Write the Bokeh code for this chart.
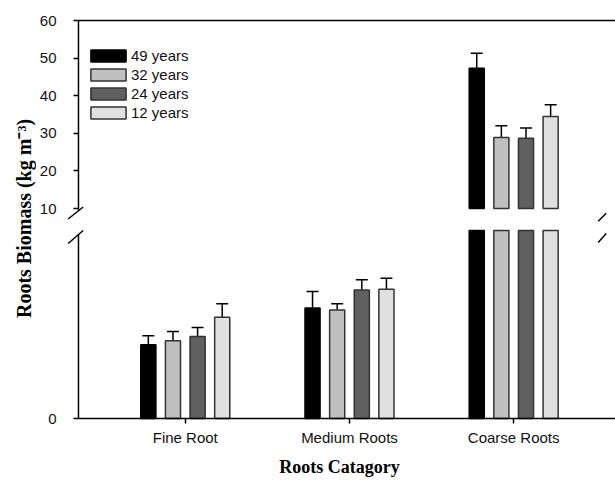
import math
import numpy as np
from bokeh.plotting import figure
from bokeh.models import (ColumnDataSource, Range1d, FixedTicker, Whisker, TeeHead,
                          Legend, LegendItem, Label, Arrow)
from bokeh.layouts import row, column
from bokeh.embed import file_html
from bokeh.resources import INLINE

# ---------------- data ----------------
CATEGORIES = ["Fine Root", "Medium Roots", "Coarse Roots"]
SERIES = ["49 years", "32 years", "24 years", "12 years"]
MEAN_49 = [0.392, 0.588, 47.3]
ERR_49 = [0.048, 0.088, 4.0]
MEAN_32 = [0.413, 0.577, 28.9]
ERR_32 = [0.050, 0.033, 3.1]
MEAN_24 = [0.436, 0.684, 28.7]
ERR_24 = [0.048, 0.054, 2.7]
MEAN_12 = [0.539, 0.688, 34.5]
ERR_12 = [0.071, 0.058, 3.1]
TOP_TICKS = [10, 20, 30, 40, 50, 60]
LOW_TICKS = [0]
UPPER_SEGMENT = (10, 60)   # value span of the upper axis segment
LOWER_SEGMENT = (0, 1.0)   # value span of the lower axis segment

MEANS = [MEAN_49, MEAN_32, MEAN_24, MEAN_12]
ERRS = [ERR_49, ERR_32, ERR_24, ERR_12]

# ---------------- style / layout ----------------
COLORS = ["#000000", "#c0c0c0", "#606060", "#e0e0e0"]
OUTLINES = ["#000000", "#333333", "#333333", "#333333"]
OFFSETS = [-0.225, -0.075, 0.075, 0.225]
BAR_W = 0.092
SANS = "Liberation Sans"
SERIF = "Liberation Serif"

LABEL_W = 36
MAIN_W = 579
BORDER_L = 26                 # frame starts 26px into main figures
AX_PX = 15                    # y-axis line sits 15px inside the frame
SEG_PX = 188                  # pixel height of each axis segment
CAT_PX = 164.5                # pixels between category centres
FIRST_CAT_PX = 107 + AX_PX    # first category centre from frame left

FRAME_W = MAIN_W - BORDER_L
XPX = 1.0 / CAT_PX
X0 = -FIRST_CAT_PX * XPX
X1 = X0 + FRAME_W * XPX
AX_X = X0 + AX_PX * XPX

TOP_YPX = (UPPER_SEGMENT[1] - UPPER_SEGMENT[0]) / SEG_PX
LOW_YPX = (LOWER_SEGMENT[1] - LOWER_SEGMENT[0]) / SEG_PX
# frame padding (px) around each segment so break marks are not clipped
TOP_PAD_T, TOP_PAD_B = 2, 14
LOW_PAD_T, LOW_PAD_B = 4, 2
TOP_Y = (UPPER_SEGMENT[0] - TOP_PAD_B * TOP_YPX, UPPER_SEGMENT[1] + TOP_PAD_T * TOP_YPX)
LOW_Y = (LOWER_SEGMENT[0] - LOW_PAD_B * LOW_YPX, LOWER_SEGMENT[1] + LOW_PAD_T * LOW_YPX)
TOP_FRAME_H = SEG_PX + TOP_PAD_T + TOP_PAD_B
LOW_FRAME_H = SEG_PX + LOW_PAD_T + LOW_PAD_B
TOP_H = 18 + TOP_FRAME_H
LOW_H = 4 + LOW_FRAME_H + 61


def style_common(p):
    p.outline_line_color = None
    p.grid.visible = False
    p.background_fill_color = "white"
    p.border_fill_color = "white"


def style_axis(ax):
    ax.axis_line_color = None
    ax.major_tick_line_width = 1.5
    ax.major_tick_line_color = "black"
    ax.minor_tick_line_color = None
    ax.major_label_text_font = SANS
    ax.major_label_text_font_size = "15px"
    ax.major_label_text_color = "#111111"


def yaxis_style(ax, ticks):
    style_axis(ax)
    ax.ticker = FixedTicker(ticks=ticks)
    ax.major_tick_out = -(AX_PX - 5)
    ax.major_tick_in = AX_PX
    ax.major_label_standoff = 7


def line(p, xs, ys, xe, ye):
    p.add_layout(Arrow(end=None, x_start=xs, y_start=ys, x_end=xe, y_end=ye,
                       line_color="black", line_width=1.5))


# ---------------- top segment ----------------
p_top = figure(width=MAIN_W, height=TOP_H, x_range=Range1d(X0, X1),
               y_range=Range1d(*TOP_Y), x_axis_location=None,
               output_backend="svg", toolbar_location=None,
               min_border_left=BORDER_L, min_border_right=0,
               min_border_top=18, min_border_bottom=0)
style_common(p_top)
yaxis_style(p_top.yaxis[0], TOP_TICKS)

# ---------------- bottom segment ----------------
p_low = figure(width=MAIN_W, height=LOW_H, x_range=p_top.x_range,
               y_range=Range1d(*LOW_Y),
               output_backend="svg", toolbar_location=None,
               min_border_left=BORDER_L, min_border_right=0,
               min_border_top=4, min_border_bottom=61)
style_common(p_low)
yaxis_style(p_low.yaxis[0], LOW_TICKS)
xb = p_low.xaxis[0]
style_axis(xb)
xb.ticker = FixedTicker(ticks=list(range(len(CATEGORIES))))
xb.major_label_overrides = {i: c for i, c in enumerate(CATEGORIES)}
xb.major_tick_in = LOW_PAD_B
xb.major_tick_out = 5 - LOW_PAD_B
xb.major_label_standoff = 5
xb.axis_label = "Roots Catagory"
xb.axis_label_text_font = SERIF
xb.axis_label_text_font_style = "bold"
xb.axis_label_text_font_size = "18px"
xb.axis_label_text_color = "black"
xb.axis_label_standoff = 8

# ---------------- axis lines (broken y-axis) ----------------
line(p_top, AX_X, UPPER_SEGMENT[1], X1, UPPER_SEGMENT[1])              # top border
line(p_top, AX_X, UPPER_SEGMENT[1], AX_X, UPPER_SEGMENT[0] - 2.3 * TOP_YPX)
line(p_low, AX_X, LOWER_SEGMENT[0], X1, LOWER_SEGMENT[0])              # x-axis line
line(p_low, AX_X, LOWER_SEGMENT[0], AX_X, LOWER_SEGMENT[1] - 4.1 * LOW_YPX)

# ---------------- bars + error bars ----------------
legend_items = []
base_x = np.arange(len(CATEGORIES))
for i, name in enumerate(SERIES):
    mean = np.array(MEANS[i], dtype=float)
    err = np.array(ERRS[i], dtype=float)
    xs = base_x + OFFSETS[i]
    m_top = mean >= UPPER_SEGMENT[0]
    m_low = mean < LOWER_SEGMENT[1]
    src_top = ColumnDataSource(dict(x=xs[m_top], top=mean[m_top]))
    src_low = ColumnDataSource(dict(x=xs, top=np.minimum(mean, LOWER_SEGMENT[1])))
    r_top = p_top.vbar(x="x", top="top", bottom=UPPER_SEGMENT[0], width=BAR_W,
                       source=src_top, fill_color=COLORS[i],
                       line_color=OUTLINES[i], line_width=1.5)
    p_low.vbar(x="x", top="top", bottom=LOWER_SEGMENT[0], width=BAR_W, source=src_low,
               fill_color=COLORS[i], line_color=OUTLINES[i], line_width=1.5)
    legend_items.append(LegendItem(label=name, renderers=[r_top]))
    for p, m in ((p_top, m_top), (p_low, m_low)):
        wsrc = ColumnDataSource(dict(x=xs[m], lower=mean[m], upper=(mean + err)[m]))
        w = Whisker(source=wsrc, base="x", lower="lower", upper="upper",
                    dimension="height", line_color="black", line_width=1.5,
                    upper_head=TeeHead(size=12, line_width=1.5, line_color="black"),
                    lower_head=None)
        p.add_layout(w)

legend = Legend(items=legend_items, location=(AX_PX + 8, 101), padding=0, margin=0,
                spacing=2, glyph_width=44, glyph_height=15, label_height=12,
                label_standoff=1, label_text_font=SANS,
                label_text_font_size="15px", label_text_color="#111111",
                background_fill_alpha=0, border_line_color=None)
p_top.add_layout(legend)

# ---------------- axis-break marks ----------------
def slash(p, cx_px, cy_px, w_px, h_px, y0, ypx):
    """cx_px: px right of the y-axis line; cy_px: px above segment edge y0."""
    cx = AX_X + cx_px * XPX
    cy = y0 + cy_px * ypx
    line(p, cx - w_px / 2 * XPX, cy - h_px / 2 * ypx,
         cx + w_px / 2 * XPX, cy + h_px / 2 * ypx)

RIGHT_PX = 524.7
slash(p_top, -2.8, -4.5, 15, 12, UPPER_SEGMENT[0], TOP_YPX)
slash(p_top, RIGHT_PX, -8.7, 8, 8, UPPER_SEGMENT[0], TOP_YPX)
slash(p_low, -2.8, -6.5, 15, 13, LOWER_SEGMENT[1], LOW_YPX)
slash(p_low, RIGHT_PX, -7.5, 8, 9, LOWER_SEGMENT[1], LOW_YPX)

# ---------------- y-axis title spanning both segments ----------------
H = TOP_H + LOW_H
p_lab = figure(width=LABEL_W, height=H, x_range=(0, 1), y_range=(0, 1),
               x_axis_location=None, y_axis_location=None,
               output_backend="svg", toolbar_location=None, min_border=0)
style_common(p_lab)
p_lab.add_layout(Label(x=23, y=H - 218, x_units="screen", y_units="screen",
                       text="Roots Biomass (kg m\u207b\u00b3)", angle=math.pi / 2,
                       text_align="center", text_baseline="middle",
                       text_font=SERIF, text_font_style="bold",
                       text_font_size="20px", text_color="black"))

layout = row(p_lab, column(p_top, p_low))
open("out.html", "w").write(file_html(layout, INLINE))
